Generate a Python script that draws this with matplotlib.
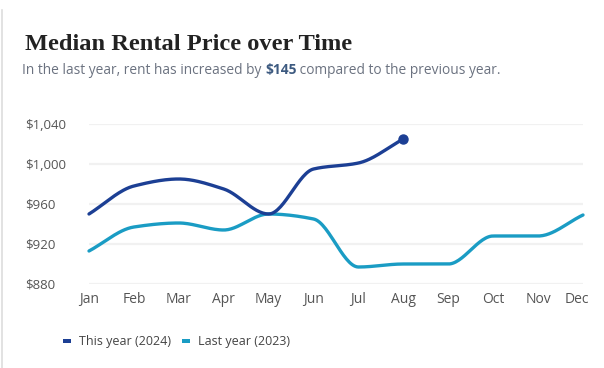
import numpy as np
import matplotlib
matplotlib.use("Agg")
import matplotlib.pyplot as plt
from matplotlib.patches import Rectangle
import matplotlib.transforms as mtransforms

months = ["Jan", "Feb", "Mar", "Apr", "May", "Jun", "Jul", "Aug", "Sep", "Oct", "Nov", "Dec"]
this_year = [950, 978, 985, 975, 950, 995, 1001, 1025]
last_year = [913, 937, 941, 934, 950, 945, 897, 900, 900, 928, 928, 949]
yticks = [880, 920, 960, 1000, 1040]
ytick_labels = ["$880", "$920", "$960", "$1,000", "$1,040"]
series_labels = ["This year (2024)", "Last year (2023)"]

DARK = "#1c3f94"
TEAL = "#1a9cc4"


def monotone(x, y, n=30):
    x = np.asarray(x, float); y = np.asarray(y, float)
    h = np.diff(x); d = np.diff(y) / h
    m = np.zeros_like(y)
    m[0] = d[0]; m[-1] = d[-1]
    for i in range(1, len(y) - 1):
        if d[i - 1] * d[i] <= 0:
            m[i] = 0
        else:
            m[i] = 3 * (h[i - 1] + h[i]) / ((2 * h[i] + h[i - 1]) / d[i - 1] + (h[i] + 2 * h[i - 1]) / d[i])
    xs, ys = [], []
    for i in range(len(h)):
        t = np.linspace(0, 1, n, endpoint=(i == len(h) - 1))
        h00 = 2 * t**3 - 3 * t**2 + 1; h10 = t**3 - 2 * t**2 + t
        h01 = -2 * t**3 + 3 * t**2; h11 = t**3 - t**2
        xs.append(x[i] + t * h[i])
        ys.append(h00 * y[i] + h10 * h[i] * m[i] + h01 * y[i + 1] + h11 * h[i] * m[i + 1])
    return np.concatenate(xs), np.concatenate(ys)


W, H = 604, 368
fig = plt.figure(figsize=(W / 100, H / 100), dpi=100)
fig.patch.set_facecolor("white")

# card left border
fig.add_artist(plt.Line2D([1.5 / W, 1.5 / W], [0, 1 - 10 / H], transform=fig.transFigure,
                          color="#dddddd", linewidth=1.2))

ax = fig.add_axes([89 / W, 1 - 284 / H, (583 - 89) / W, (284 - 124) / H])
ax.set_xlim(0, 11)
ax.set_ylim(880, 1040)
for s in ax.spines.values():
    s.set_visible(False)
ax.set_yticks(yticks)
ax.set_yticklabels(ytick_labels)
ax.set_xticks(range(len(months)))
ax.set_xticklabels(months)
ax.tick_params(length=0, labelcolor="#555555")
ax.tick_params(axis="y", pad=46, labelsize=9.5)
ax.tick_params(axis="x", pad=6, labelsize=10)
for lab in ax.get_yticklabels() + ax.get_xticklabels():
    lab.set_fontfamily("Open Sans")
for lab in ax.get_yticklabels():
    lab.set_horizontalalignment("left")
# last month label nudged inward so it stays inside the card
last_lab = ax.get_xticklabels()[-1]
last_lab.set_transform(last_lab.get_transform() +
                       mtransforms.ScaledTranslation(-6 / 100, 0, fig.dpi_scale_trans))
ax.grid(axis="y", color="#f1f1f1", linewidth=1.6)
ax.set_axisbelow(True)

xl, yl = monotone(range(len(last_year)), last_year)
ax.plot(xl, yl, color=TEAL, linewidth=2.4, solid_capstyle="round", clip_on=False)
xt, yt = monotone(range(len(this_year)), this_year)
ax.plot(xt, yt, color=DARK, linewidth=2.4, solid_capstyle="round", clip_on=False)
ax.plot([len(this_year) - 1], [this_year[-1]], "o", color=DARK, markersize=6.5, clip_on=False)

fig.text(25 / W, 1 - 50 / H, "Median Rental Price over Time", fontsize=17.6, fontweight="bold",
         family="Liberation Serif", color="#222222", va="baseline", ha="left")

sub_y = 1 - 74 / H
fs = 9.9
t1 = fig.text(22 / W, sub_y, "In the last year, rent has increased by ", fontsize=fs,
              family="Open Sans", color="#6b7280", va="baseline", ha="left")
fig.canvas.draw()
r = fig.canvas.get_renderer()
bb = t1.get_window_extent(r)
t2 = fig.text(bb.x1 / W, sub_y, "$145", fontsize=fs, family="Open Sans", fontweight="bold",
              color="#3d5a80", va="baseline", ha="left")
bb2 = t2.get_window_extent(r)
fig.text(bb2.x1 / W, sub_y, " compared to the previous year.", fontsize=fs,
         family="Open Sans", color="#6b7280", va="baseline", ha="left")

# legend
leg_y = 1 - 341 / H
for color, label, mx in [(DARK, series_labels[0], 63), (TEAL, series_labels[1], 182)]:
    fig.add_artist(Rectangle((mx / W, leg_y - 2 / H), 8 / W, 4 / H, transform=fig.transFigure,
                             facecolor=color, edgecolor="none"))
    fig.text((mx + 16) / W, leg_y, label, fontsize=9.0, family="Open Sans", color="#444444",
             va="center", ha="left")

fig.savefig("out.png", dpi=100, facecolor="white")
